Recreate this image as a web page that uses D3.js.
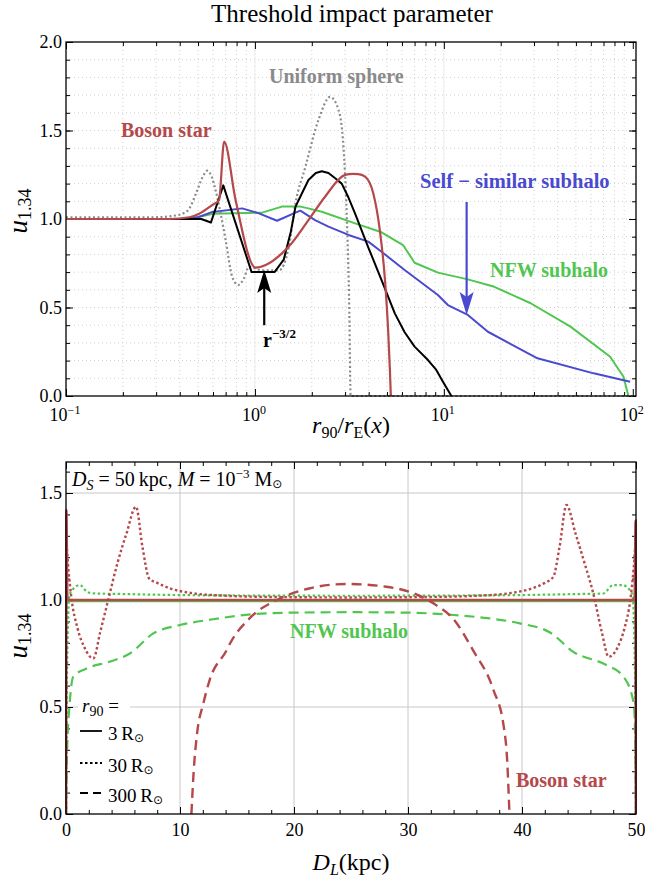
<!DOCTYPE html>
<html>
<head>
<meta charset="utf-8">
<script src="https://cdn.jsdelivr.net/npm/d3@7"></script>
<style>
  body { margin: 0; background: #fff; }
  text { font-family: "Liberation Serif", "Times New Roman", serif; fill: #000; }
</style>
</head>
<body>
<svg id="chart" width="645" height="883"></svg>
<script>
// ---- top panel: u_1.34 vs r90/rE, [x, u]
const uniformSphere = [[0.1,1.01],[0.3,1.01],[0.38,1.02],[0.414,1.03],[0.45,1.06],[0.488,1.145],[0.53,1.24],[0.56,1.273],[0.59,1.24],[0.62,1.16],[0.70,0.88],[0.758,0.674],[0.816,0.627],[0.87,0.66],[0.93,0.73],[1.09,0.71],[1.34,0.71],[1.51,0.84],[1.64,1.09],[1.85,1.295],[2.17,1.56],[2.5,1.69],[2.77,1.616],[2.94,1.41],[3.06,1.03],[3.16,0.47],[3.21,0.0],[100,0.0]]
const powerLaw = [[0.1,1.0],[0.3,1.0],[0.45,1.0],[0.52,1.0],[0.585,0.98],[0.68,1.19],[0.96,0.70],[1.27,0.70],[1.42,0.77],[1.55,0.93],[1.64,1.07],[1.71,1.11],[1.92,1.22],[2.1,1.26],[2.26,1.27],[2.45,1.26],[2.66,1.23],[2.88,1.20],[3.1,1.13],[3.39,1.03],[3.98,0.84],[4.68,0.655],[5.5,0.467],[6.2,0.36],[7.0,0.279],[8.24,0.203],[9.12,0.147],[9.89,0.081],[10.96,0.0]]
const bosonStarTop = [[0.1,1.0],[0.35,1.0],[0.45,1.01],[0.507,1.03],[0.596,1.08],[0.646,1.107],[0.687,1.437],[0.79,1.107],[1.008,0.725],[1.14,0.74],[1.39,0.806],[1.51,0.844],[1.92,0.994],[2.35,1.126],[3.0,1.249],[3.3,1.255],[3.52,1.254],[3.83,1.239],[4.23,1.145],[4.58,0.938],[4.88,0.655],[5.07,0.373],[5.18,0.15],[5.24,0.0]]
const selfSimilar = [[0.1,1.0],[0.4,1.0],[0.5,1.01],[0.596,1.04],[0.857,1.06],[1.05,1.032],[1.31,0.99],[1.64,1.036],[1.74,1.047],[2.08,0.994],[2.45,0.957],[3.13,0.91],[3.98,0.872],[4.68,0.815],[6.2,0.712],[9.3,0.571],[10.5,0.514],[13.4,0.458],[17.1,0.363],[31.3,0.213],[62.1,0.128],[96.8,0.081]]
const nfwTop = [[0.1,1.0],[0.45,1.0],[0.6,1.03],[1.09,1.036],[1.39,1.07],[1.74,1.07],[1.92,1.06],[2.26,1.041],[3.39,0.975],[4.68,0.925],[6.08,0.853],[7.0,0.753],[9.3,0.697],[13.4,0.659],[18.5,0.617],[28.8,0.524],[46.8,0.392],[75.9,0.222],[89.3,0.109],[94.8,0.0]]

// ---- bottom panel: u_1.34 vs D_L (kpc), [DL, u]
const boson3 = [[0,0],[0.03,1.42],[0.12,1.0],[25,1.0],[49.88,1.0],[49.97,1.37],[50,0]]
const boson30 = [[0,0],[0.04,1.25],[0.2,1.15],[0.5,1.0],[1.0,0.87],[1.6,0.78],[2.4,0.727],[3.0,0.85],[3.7,1.0],[4.5,1.17],[5.3,1.31],[6.14,1.436],[6.7,1.25],[7.3,1.10],[8.0,1.08],[9.1,1.055],[11.2,1.031],[14,1.02],[17,1.015],[25,1.012],[33,1.015],[36,1.02],[38.8,1.031],[40.9,1.055],[42.0,1.08],[42.75,1.109],[43.3,1.25],[43.9,1.444],[44.7,1.31],[45.5,1.17],[46.25,1.031],[47.0,0.85],[47.6,0.735],[48.4,0.78],[49.0,0.87],[49.5,1.0],[49.8,1.15],[49.96,1.25],[50,0]]
const boson300 = [[11.0,0.0],[11.2,0.2],[11.5,0.377],[12.05,0.517],[12.6,0.626],[14.1,0.766],[14.4,0.798],[16.1,0.914],[18.8,1.008],[21.4,1.055],[24.6,1.075],[28.1,1.062],[30.5,1.031],[32.5,0.975],[34,0.91],[35.7,0.766],[37.5,0.579],[38.4,0.408],[38.7,0.25],[38.9,0.0]]
const nfw3 = [[0,0],[0.06,0.993],[49.94,0.993],[50,0]]
const nfw30 = [[0,0],[0.1,0.7],[0.3,1.02],[0.6,1.05],[1.23,1.07],[1.8,1.04],[2.4,1.031],[5,1.028],[12,1.022],[25,1.02],[38,1.022],[45,1.028],[47.1,1.03],[48.0,1.07],[48.8,1.07],[49.4,1.05],[49.7,1.02],[49.9,0.7],[50,0]]
const nfw300 = [[0,0],[0.1,0.3],[0.3,0.5],[0.64,0.642],[1.8,0.68],[3.86,0.712],[5.6,0.75],[7.66,0.844],[10,0.883],[12.9,0.91],[16.7,0.935],[19.9,0.941],[25,0.943],[30,0.941],[34,0.93],[37,0.915],[39.8,0.891],[42.5,0.847],[44.5,0.758],[47.4,0.696],[48.9,0.642],[49.8,0.517],[49.95,0.3],[50,0]]

// tick values
const logMajor = [0.1, 1, 10, 100]
const logExp = ['\u22121', '0', '1', '2']
const logMinor = [0.1, 1, 10].flatMap(p => d3.range(2, 10).map(m => m * p))
const yTopMajor = [0, 0.5, 1, 1.5, 2]
const yTopMinor = d3.range(1, 20).map(i => i / 10)
const xBotMajor = [0, 10, 20, 30, 40, 50]
const xBotMinor = d3.range(0, 51, 2)
const yBotMajor = [0, 0.5, 1, 1.5]
const yBotMinor = d3.range(0, 17).map(i => i / 10)

const RED = '#b4484a', BLUE = '#4a4ad0', GREEN = '#50c650', GRAY = '#8a8a8a'

const svg = d3.select('#chart')

const tp = { left: 66, right: 636, top: 42, bottom: 396 }
const bp = { left: 66, right: 636, top: 462, bottom: 814 }

const xTop = d3.scaleLog().domain([0.1, 104]).range([tp.left, tp.right])
const yTop = d3.scaleLinear().domain([0, 2]).range([tp.bottom, tp.top])
const xBot = d3.scaleLinear().domain([0, 50]).range([bp.left, bp.right])
const yBot = d3.scaleLinear().domain([0, 1.645]).range([bp.bottom, bp.top])

// title
svg.append('text').attr('x', 352).attr('y', 22).attr('text-anchor', 'middle')
  .attr('font-size', 25).text('Threshold impact parameter')

// ---------- top grid
const gridTop = svg.append('g')
gridTop.selectAll('.gx').data(logMinor.concat([1, 10])).join('line')
  .attr('x1', d => xTop(d)).attr('x2', d => xTop(d))
  .attr('y1', tp.top).attr('y2', tp.bottom)
  .attr('stroke', '#bdbdbd').attr('stroke-width', 0.7).attr('stroke-dasharray', '1,3')
gridTop.selectAll('.gy').data(yTopMinor).join('line')
  .attr('y1', d => yTop(d)).attr('y2', d => yTop(d))
  .attr('x1', tp.left).attr('x2', tp.right)
  .attr('stroke', '#bdbdbd').attr('stroke-width', 0.7).attr('stroke-dasharray', '1,3')
gridTop.selectAll('.gxm').data([1, 10]).join('line')
  .attr('x1', d => xTop(d)).attr('x2', d => xTop(d))
  .attr('y1', tp.top).attr('y2', tp.bottom)
  .attr('stroke', '#eeeeee').attr('stroke-width', 1)

// ---------- bottom grid
const gridBot = svg.append('g')
gridBot.selectAll('.gx').data([10, 20, 30, 40]).join('line')
  .attr('x1', d => xBot(d)).attr('x2', d => xBot(d))
  .attr('y1', bp.top).attr('y2', bp.bottom)
  .attr('stroke', '#c8c8c8').attr('stroke-width', 1)
gridBot.selectAll('.gy').data([0.5, 1, 1.5]).join('line')
  .attr('y1', d => yBot(d)).attr('y2', d => yBot(d))
  .attr('x1', bp.left).attr('x2', bp.right)
  .attr('stroke', '#c8c8c8').attr('stroke-width', 1)

// inward ticks on all four sides
const ticks = (p, xs, ys, xMaj, xMin, yMaj, yMin) => {
  const add = (axis, tr) => svg.append('g').attr('transform', tr).call(axis)
    .call(g => g.select('.domain').remove())
    .call(g => g.selectAll('line').attr('stroke', '#000').attr('stroke-width', 1))
  ;[[xMaj, 7], [xMin, 4]].forEach(([v, s]) => {
    add(d3.axisBottom(xs).tickValues(v).tickSize(-s).tickFormat(''), `translate(0,${p.bottom})`)
    add(d3.axisTop(xs).tickValues(v).tickSize(-s).tickFormat(''), `translate(0,${p.top})`)
  })
  ;[[yMaj, 7], [yMin, 4]].forEach(([v, s]) => {
    add(d3.axisLeft(ys).tickValues(v).tickSize(-s).tickFormat(''), `translate(${p.left},0)`)
    add(d3.axisRight(ys).tickValues(v).tickSize(-s).tickFormat(''), `translate(${p.right},0)`)
  })
}
ticks(tp, xTop, yTop, logMajor, logMinor, yTopMajor, yTopMinor)
ticks(bp, xBot, yBot, xBotMajor, xBotMinor, yBotMajor, yBotMinor)

// tick labels
const styleLabels = g => g.call(s => s.select('.domain').remove())
  .selectAll('text').attr('font-size', 18).attr('fill', '#000')
  .style('font-family', '"Liberation Serif", serif')
svg.append('g').attr('transform', `translate(${tp.left},0)`)
  .call(d3.axisLeft(yTop).tickValues(yTopMajor).tickSize(0).tickPadding(4).tickFormat(d3.format('.1f')))
  .call(styleLabels)
svg.append('g').attr('transform', `translate(${bp.left},0)`)
  .call(d3.axisLeft(yBot).tickValues(yBotMajor).tickSize(0).tickPadding(4).tickFormat(d3.format('.1f')))
  .call(styleLabels)
svg.append('g').attr('transform', `translate(0,${bp.bottom})`)
  .call(d3.axisBottom(xBot).tickValues(xBotMajor).tickSize(0).tickPadding(9).tickFormat(d3.format('d')))
  .call(styleLabels)
svg.append('g').selectAll('text').data(logMajor).join('text')
  .attr('x', d => xTop(d) - 1).attr('y', 421).attr('text-anchor', 'middle').attr('font-size', 18)
  .each(function (d, i) {
    const t = d3.select(this)
    t.append('tspan').text('10')
    t.append('tspan').attr('font-size', 12).attr('dy', -7).text(logExp[i])
  })

// ---------- curves
const lineTopS = d3.line().x(d => xTop(d[0])).y(d => yTop(d[1])).curve(d3.curveMonotoneX)
const lineTopL = d3.line().x(d => xTop(d[0])).y(d => yTop(d[1]))
const lineBot = d3.line().x(d => xBot(d[0])).y(d => yBot(d[1])).curve(d3.curveMonotoneX)

svg.append('clipPath').attr('id', 'ct').append('rect')
  .attr('x', tp.left).attr('y', tp.top - 2).attr('width', tp.right - tp.left).attr('height', tp.bottom - tp.top + 4)
svg.append('clipPath').attr('id', 'cb').append('rect')
  .attr('x', bp.left - 1).attr('y', bp.top).attr('width', bp.right - bp.left + 2).attr('height', bp.bottom - bp.top)

const topCurves = [
  [nfwTop, GREEN, null, 2, lineTopL],
  [selfSimilar, BLUE, null, 2, lineTopL],
  [uniformSphere, GRAY, '2,2.5', 2.2, lineTopS],
  [powerLaw, '#000', null, 2, lineTopL],
  [bosonStarTop, RED, null, 2.2, lineTopS]
]
svg.append('g').attr('clip-path', 'url(#ct)').selectAll('path').data(topCurves).join('path')
  .attr('d', d => d[4](d[0])).attr('fill', 'none')
  .attr('stroke', d => d[1]).attr('stroke-dasharray', d => d[2]).attr('stroke-width', d => d[3])
  .attr('stroke-linejoin', 'round')

const botCurves = [
  [nfw300, GREEN, '10,6', 2.2],
  [nfw30, GREEN, '2.5,2.5', 2.2],
  [nfw3, GREEN, null, 1.6],
  [boson300, RED, '10,6', 2.4],
  [boson30, RED, '2.5,2.5', 2.4],
  [boson3, RED, null, 2.6]
]
svg.append('g').attr('clip-path', 'url(#cb)').selectAll('path').data(botCurves).join('path')
  .attr('d', d => lineBot(d[0])).attr('fill', 'none')
  .attr('stroke', d => d[1]).attr('stroke-dasharray', d => d[2]).attr('stroke-width', d => d[3])

// frames
;[tp, bp].forEach(p => svg.append('rect')
  .attr('x', p.left).attr('y', p.top).attr('width', p.right - p.left).attr('height', p.bottom - p.top)
  .attr('fill', 'none').attr('stroke', '#000').attr('stroke-width', 1.3))

// ---------- arrows (pointing at data)
const arrow = (x, yFrom, yTo, color) => {
  const px = xTop(x), y0 = yTop(yFrom), y1 = yTop(yTo)
  const dir = Math.sign(y1 - y0)
  svg.append('line').attr('x1', px).attr('x2', px).attr('y1', y0).attr('y2', y1 - dir * 16)
    .attr('stroke', color).attr('stroke-width', 2.2)
  svg.append('path').attr('fill', color)
    .attr('d', `M${px},${y1} L${px - 7},${y1 - dir * 23} L${px},${y1 - dir * 18} L${px + 7},${y1 - dir * 23}Z`)
}
arrow(1.12, 0.40, 0.712, '#000')
arrow(13.2, 1.096, 0.458, BLUE)

// ---------- top annotations
const bold = (x, y, txt, color, size = 20) => svg.append('text').attr('x', x).attr('y', y)
  .attr('font-weight', 'bold').attr('font-size', size).style('fill', color).text(txt)
bold(269, 83, 'Uniform sphere', GRAY)
bold(121, 137, 'Boson star', RED)
bold(420, 188, 'Self \u2212 similar subhalo', BLUE, 20.5)
bold(490, 277, 'NFW subhalo', GREEN)
const rl = bold(263, 347, 'r', '#000', 20)
rl.append('tspan').attr('font-size', 13).attr('dy', -9).text('\u22123/2')

// bottom annotations
bold(290, 638, 'NFW subhalo', GREEN)
bold(516, 787, 'Boson star', RED)

// parameters line
const ds = svg.append('text').attr('x', 72).attr('y', 486).attr('font-size', 20)
ds.append('tspan').attr('font-style', 'italic').text('D')
ds.append('tspan').attr('font-style', 'italic').attr('font-size', 14).attr('dy', 4).text('S')
ds.append('tspan').attr('dy', -4).text(' = 50\u2009kpc, ')
ds.append('tspan').attr('font-style', 'italic').text('M')
ds.append('tspan').text(' = 10')
ds.append('tspan').attr('font-size', 13).attr('dy', -8).text('\u22123')
ds.append('tspan').attr('dy', 8).text(' M')
ds.append('tspan').attr('font-size', 12).attr('dy', 2).style('font-family', 'DejaVu Sans').text('\u2299')

// legend
svg.append('rect').attr('x', 78).attr('y', 697).attr('width', 52).attr('height', 20).attr('fill', '#fff')
const lt = svg.append('text').attr('x', 82).attr('y', 712).attr('font-size', 19)
lt.append('tspan').attr('font-style', 'italic').text('r')
lt.append('tspan').attr('font-size', 14).attr('dy', 4).text('90')
lt.append('tspan').attr('dy', -4).text(' =')
const legendRows = [['3', null, 731], ['30', '2.5,2.5', 763], ['300', '8,5', 793]]
legendRows.forEach(([r, dash, y]) => {
  svg.append('line').attr('x1', 80).attr('x2', 102).attr('y1', y).attr('y2', y)
    .attr('stroke', '#000').attr('stroke-width', 1.8).attr('stroke-dasharray', dash)
  const t = svg.append('text').attr('x', 108).attr('y', y + 9).attr('font-size', 19)
  t.append('tspan').text(r + '\u2009R')
  t.append('tspan').attr('font-size', 12).attr('dy', 2).style('font-family', 'DejaVu Sans').text('\u2299')
})

// ---------- axis titles
const yl = (cy) => {
  const t = svg.append('text').attr('transform', `translate(27,${cy}) rotate(-90)`).attr('text-anchor', 'middle')
  t.append('tspan').attr('font-style', 'italic').attr('font-size', 27).text('u')
  t.append('tspan').attr('font-size', 18).attr('dy', 4).text('1.34')
}
yl((tp.top + tp.bottom) / 2 - 8)
yl((bp.top + bp.bottom) / 2 - 2)

const xl1 = svg.append('text').attr('x', 351).attr('y', 433).attr('text-anchor', 'middle').attr('font-size', 24)
xl1.append('tspan').attr('font-style', 'italic').text('r')
xl1.append('tspan').attr('font-size', 16).attr('dy', 5).text('90')
xl1.append('tspan').attr('dy', -5).text('/')
xl1.append('tspan').attr('font-style', 'italic').text('r')
xl1.append('tspan').attr('font-size', 16).attr('dy', 5).text('E')
xl1.append('tspan').attr('dy', -5).text('(')
xl1.append('tspan').attr('font-style', 'italic').text('x')
xl1.append('tspan').text(')')

const xl2 = svg.append('text').attr('x', 351).attr('y', 870).attr('text-anchor', 'middle').attr('font-size', 24)
xl2.append('tspan').attr('font-style', 'italic').text('D')
xl2.append('tspan').attr('font-style', 'italic').attr('font-size', 16).attr('dy', 5).text('L')
xl2.append('tspan').attr('dy', -5).text('(kpc)')
</script>
</body>
</html>
